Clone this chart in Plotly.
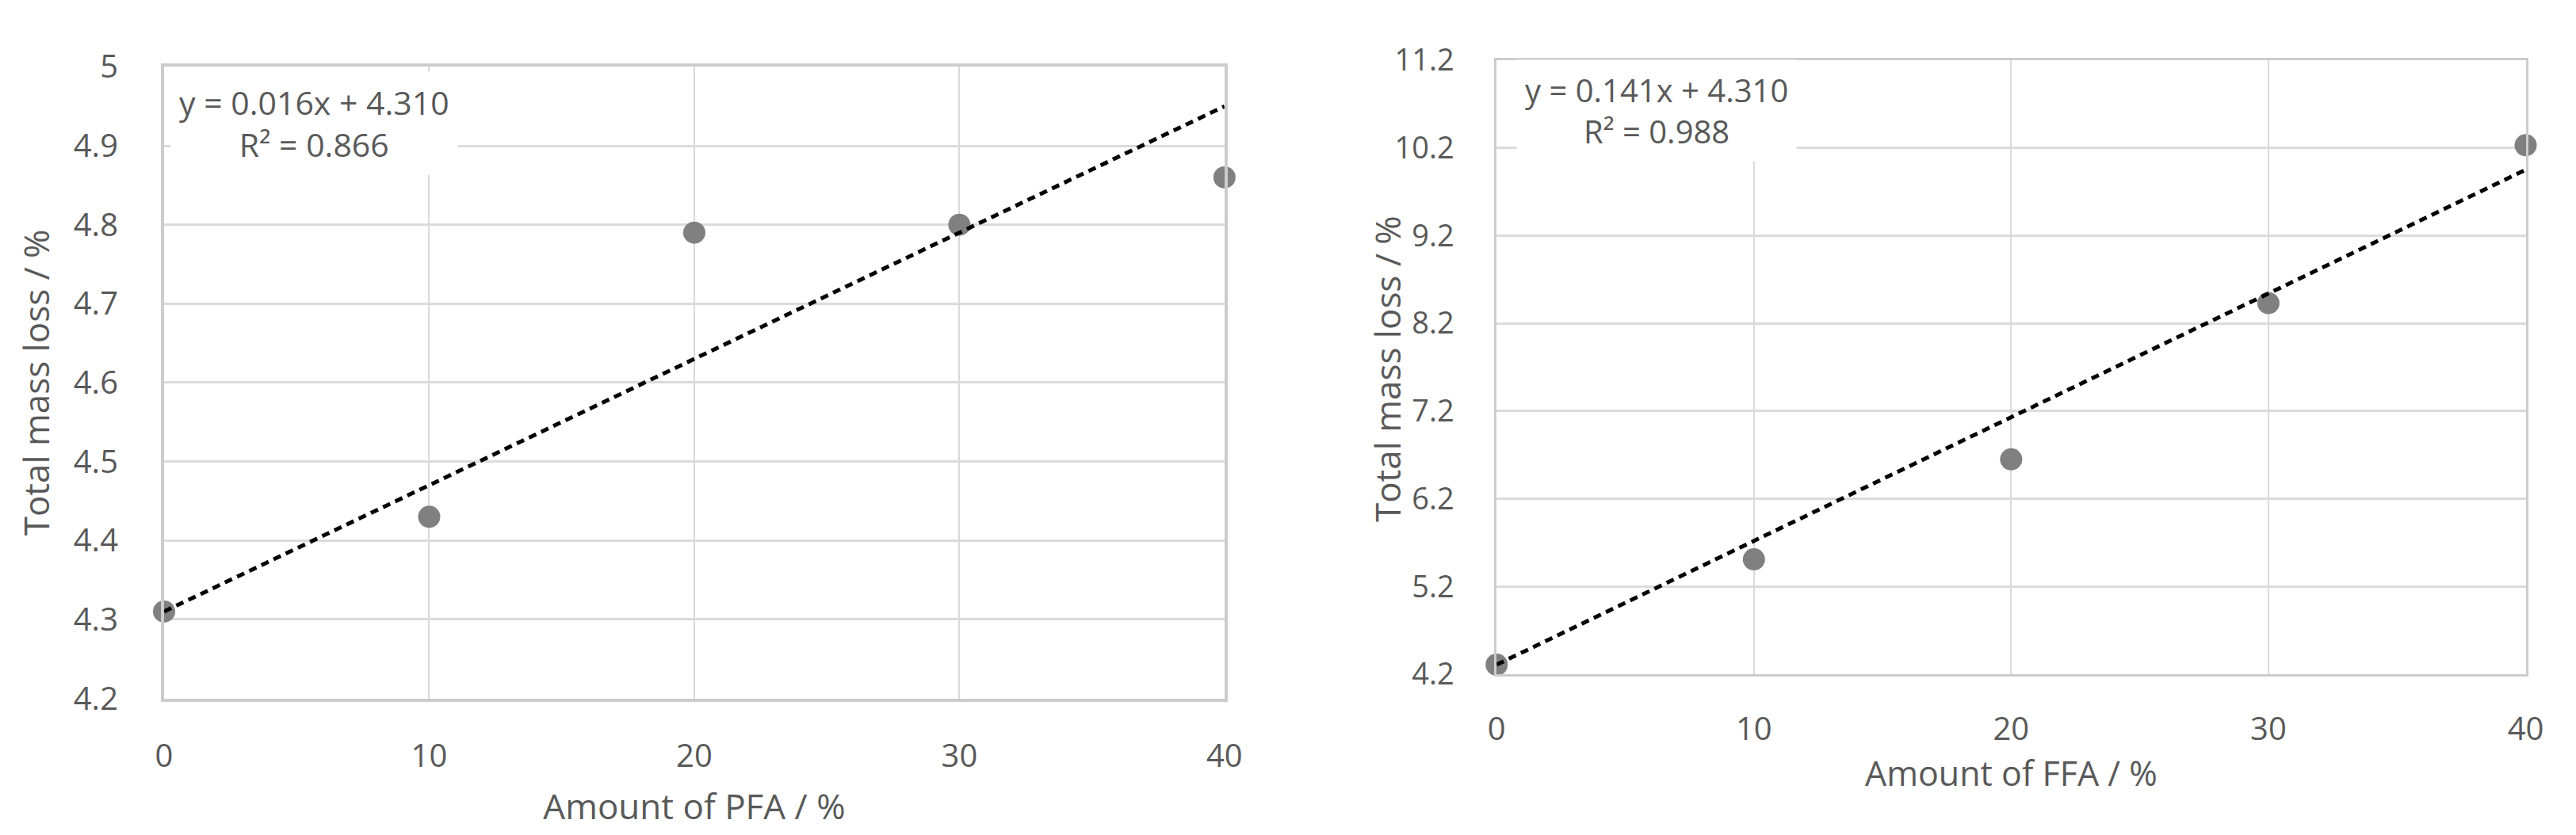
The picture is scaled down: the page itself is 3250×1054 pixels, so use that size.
import plotly.graph_objects as go

# ---- data ----
pfa_amount = [0, 10, 20, 30, 40]
pfa_mass_loss = [4.31, 4.43, 4.79, 4.80, 4.86]
pfa_slope, pfa_intercept, pfa_r2 = 0.016, 4.310, 0.866

ffa_amount = [0, 10, 20, 30, 40]
ffa_mass_loss = [4.31, 5.51, 6.65, 8.43, 10.23]
ffa_slope, ffa_intercept, ffa_r2 = 0.141, 4.310, 0.988

x_ticks = [0, 10, 20, 30, 40]
pfa_y_ticks = [4.2, 4.3, 4.4, 4.5, 4.6, 4.7, 4.8, 4.9, 5.0]
pfa_y_ticktext = ["4.2", "4.3", "4.4", "4.5", "4.6", "4.7", "4.8", "4.9", "5"]
ffa_y_ticks = [4.2, 5.2, 6.2, 7.2, 8.2, 9.2, 10.2, 11.2]

y_title = "Total mass loss / %"

W, H = 3250, 1054
FONT = "Open Sans"
TXT = "#595959"
MARK = "#808080"


def fit_line(xs, slope, intercept):
    x0, x1 = min(xs), max(xs)
    return [x0, x1], [slope * x0 + intercept, slope * x1 + intercept]


fig = go.Figure()

# left panel
fig.add_trace(go.Scatter(x=pfa_amount, y=pfa_mass_loss, mode="markers",
                         marker=dict(size=28, color=MARK), cliponaxis=False,
                         xaxis="x", yaxis="y", showlegend=False))
fx, fy = fit_line(pfa_amount, pfa_slope, pfa_intercept)
fig.add_trace(go.Scatter(x=fx, y=fy, mode="lines",
                         line=dict(color="#000000", width=5, dash="10px,7px"),
                         xaxis="x", yaxis="y", showlegend=False))

# right panel
fig.add_trace(go.Scatter(x=ffa_amount, y=ffa_mass_loss, mode="markers",
                         marker=dict(size=28, color=MARK), cliponaxis=False,
                         xaxis="x2", yaxis="y2", showlegend=False))
fx, fy = fit_line(ffa_amount, ffa_slope, ffa_intercept)
fig.add_trace(go.Scatter(x=fx, y=fy, mode="lines",
                         line=dict(color="#000000", width=5, dash="10px,7px"),
                         xaxis="x2", yaxis="y2", showlegend=False))


def xax(domain, anchor, title, tsize, tickstand, titlestand, lw):
    return dict(domain=domain, anchor=anchor, range=[0, 40],
                tickvals=x_ticks, showgrid=True, gridcolor="#d9d9d9", gridwidth=2,
                zeroline=False, showline=True, linecolor="#cccccc", linewidth=lw,
                mirror=True, ticks="", ticklabelstandoff=tickstand,
                tickfont=dict(family=FONT, size=40, color=TXT),
                title=dict(text=title, font=dict(family=FONT, size=tsize, color=TXT),
                           standoff=titlestand))


def yax(domain, anchor, rng, tv, tt, title, tsize, tickstand, titlestand, lw, tfs):
    return dict(domain=domain, anchor=anchor, range=rng, tickvals=tv, ticktext=tt,
                showgrid=True, gridcolor="#dbdbdb", gridwidth=3,
                zeroline=False, showline=True, linecolor="#cccccc", linewidth=lw,
                mirror=True, ticks="", ticklabelstandoff=tickstand,
                tickfont=dict(family=FONT, size=tfs, color=TXT),
                title=dict(text=title,
                           font=dict(family=FONT, size=tsize, color=TXT),
                           standoff=titlestand))


fig.update_layout(
    width=W, height=H,
    margin=dict(l=0, r=0, t=0, b=0),
    paper_bgcolor="white", plot_bgcolor="white",
    xaxis=xax([190 / W, 1542 / W], "y", "Amount of PFA / %", 44, 34, 26, 4),
    yaxis=yax([1 - 891 / H, 1 - 50 / H], "x", [4.2, 5.0], pfa_y_ticks, pfa_y_ticktext,
              y_title, 44, 46, 17, 4, 40),
    xaxis2=xax([1889 / W, 3201 / W], "y2", "Amount of FFA / %", 43, 32, 14, 3),
    yaxis2=yax([1 - 859 / H, 1 - 41 / H], "x2", [4.2, 11.2], ffa_y_ticks,
               [f"{v:.1f}" for v in ffa_y_ticks], "", 44, 43, 0, 3, 38),
    annotations=[
        dict(text=f"y = {pfa_slope:.3f}x + {pfa_intercept:.3f}<br>R² = {pfa_r2:.3f}",
             xref="paper", yref="paper", x=381 / W, y=1 - 125 / H,
             xanchor="center", yanchor="middle", showarrow=False, align="center",
             bgcolor="white", borderpad=10,
             font=dict(family=FONT, size=41, color=TXT)),
        dict(text=f"y = {ffa_slope:.3f}x + {ffa_intercept:.3f}<br>R² = {ffa_r2:.3f}",
             xref="paper", yref="paper", x=2093 / W, y=1 - 108 / H,
             xanchor="center", yanchor="middle", showarrow=False, align="center",
             bgcolor="white", borderpad=10,
             font=dict(family=FONT, size=40, color=TXT)),
        dict(text=y_title, textangle=-90,
             xref="paper", yref="paper", x=1750 / W, y=1 - 452 / H,
             xanchor="center", yanchor="middle", showarrow=False,
             font=dict(family=FONT, size=44, color=TXT)),
    ],
)

fig.write_html("out.html")
